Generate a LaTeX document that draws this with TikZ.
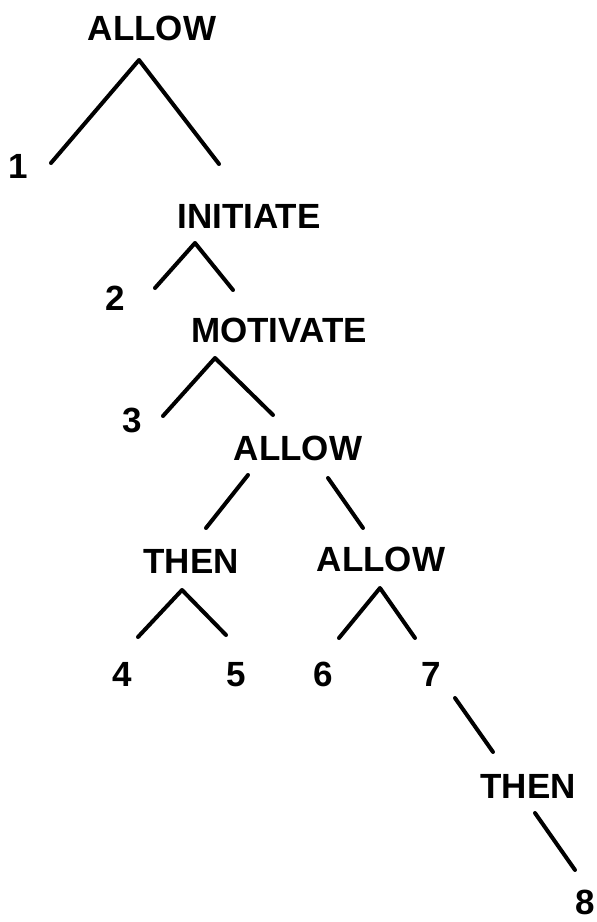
\documentclass[tikz,border=0pt]{standalone}
\usepackage{fontspec}
\setmainfont{Liberation Sans}
\begin{document}
\begin{tikzpicture}[x=1pt,y=-1pt,
  lab/.style={inner sep=0pt,anchor=center,font=\fontsize{35}{35}\selectfont\bfseries,text depth=0pt},
  edge/.style={line width=4pt,line cap=round,line join=round}]
\useasboundingbox (0,0) rectangle (597,922);
% labels
\node[lab] (allowA) at (152,28) {ALLOW};
\node[lab] (n1) at (18,166) {1};
\node[lab] (init) at (249,216) {INITIATE};
\node[lab] (n2) at (115,298) {2};
\node[lab] (motiv) at (279,330) {MOTIVATE};
\node[lab] (n3) at (132,420) {3};
\node[lab] (allowB) at (298,448) {ALLOW};
\node[lab] (thenA) at (191,561) {THEN};
\node[lab] (allowC) at (381,559) {ALLOW};
\node[lab] (n4) at (122,674) {4};
\node[lab] (n5) at (236,674) {5};
\node[lab] (n6) at (323,674) {6};
\node[lab] (n7) at (431,674) {7};
\node[lab] (thenB) at (528,786) {THEN};
\node[lab] (n8) at (585,902) {8};
% connector points
\coordinate (a1) at (139,60);  \coordinate (a1l) at (51,163);  \coordinate (a1r) at (219,164);
\coordinate (a2) at (195,243); \coordinate (a2l) at (155,288); \coordinate (a2r) at (233,290);
\coordinate (a3) at (215,358); \coordinate (a3l) at (163,416); \coordinate (a3r) at (273,415);
\coordinate (b1) at (248,475); \coordinate (b1e) at (206,528);
\coordinate (b2) at (328,478); \coordinate (b2e) at (363,528);
\coordinate (a4) at (182,590); \coordinate (a4l) at (138,637); \coordinate (a4r) at (226,635);
\coordinate (a5) at (380,588); \coordinate (a5l) at (339,638); \coordinate (a5r) at (415,638);
\coordinate (c1) at (455,698); \coordinate (c1e) at (493,752);
\coordinate (c2) at (535,813); \coordinate (c2e) at (575,870);
% connectors
\draw[edge] (a1l) -- (a1) -- (a1r);
\draw[edge] (a2l) -- (a2) -- (a2r);
\draw[edge] (a3l) -- (a3) -- (a3r);
\draw[edge] (b1) -- (b1e);
\draw[edge] (b2) -- (b2e);
\draw[edge] (a4l) -- (a4) -- (a4r);
\draw[edge] (a5l) -- (a5) -- (a5r);
\draw[edge] (c1) -- (c1e);
\draw[edge] (c2) -- (c2e);
\end{tikzpicture}
\end{document}
